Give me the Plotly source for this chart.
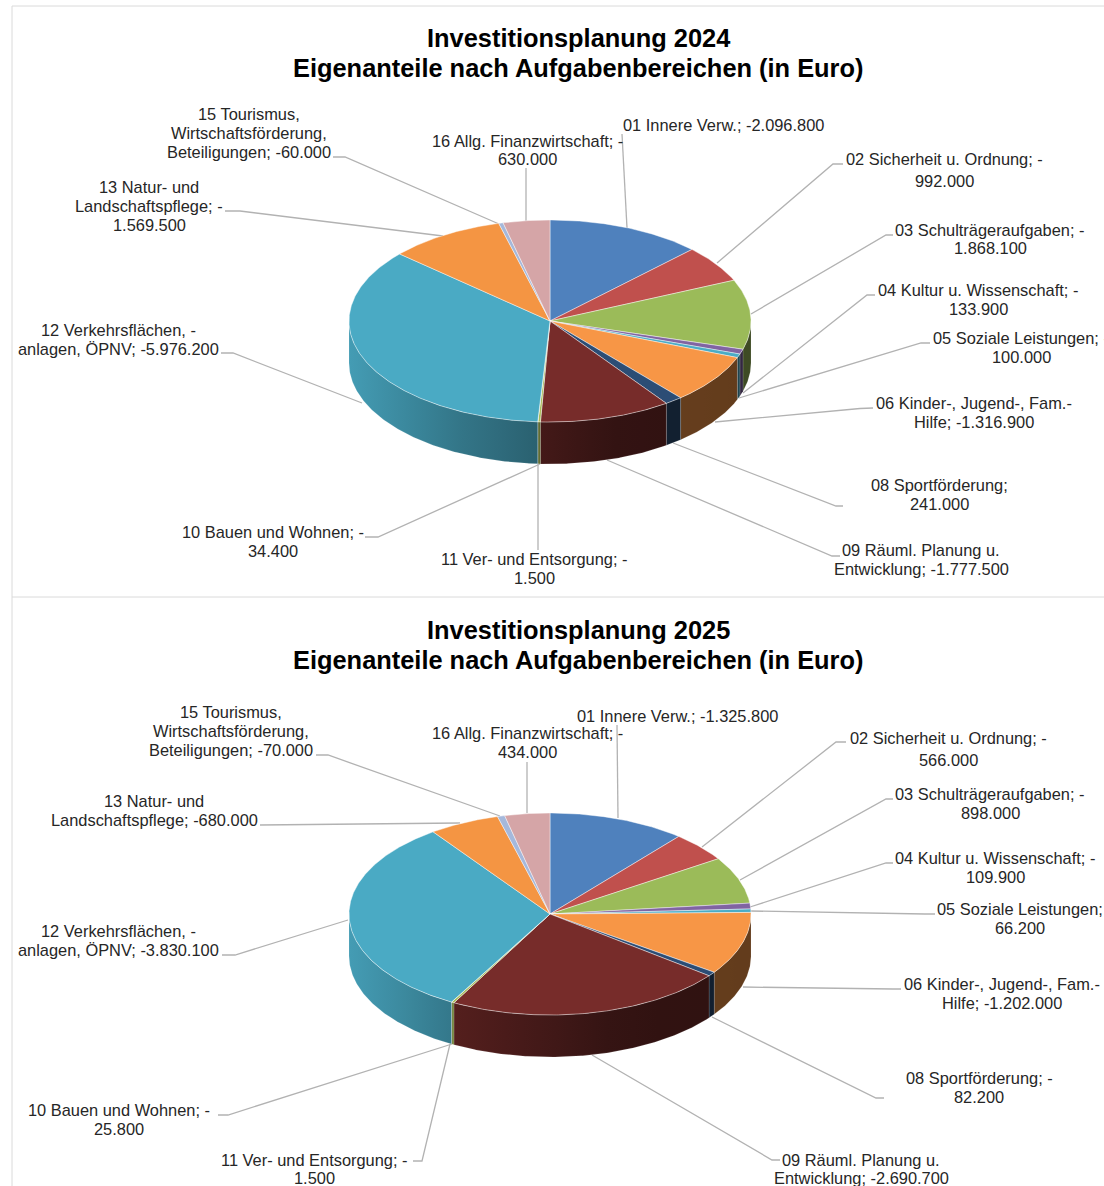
import math
import numpy as np
import plotly.graph_objects as go

# ---------- data ----------
categories = ["01 Innere Verw.", "02 Sicherheit u. Ordnung", "03 Schulträgeraufgaben",
              "04 Kultur u. Wissenschaft", "05 Soziale Leistungen", "06 Kinder-, Jugend-, Fam.-Hilfe",
              "08 Sportförderung", "09 Räuml. Planung u. Entwicklung", "10 Bauen und Wohnen",
              "11 Ver- und Entsorgung", "12 Verkehrsflächen, -anlagen, ÖPNV",
              "13 Natur- und Landschaftspflege", "15 Tourismus, Wirtschaftsförderung, Beteiligungen",
              "16 Allg. Finanzwirtschaft"]
values_2024 = [2096800, 992000, 1868100, 133900, 100000, 1316900, 241000,
               1777500, 34400, 1500, 5976200, 1569500, 60000, 630000]
values_2025 = [1325800, 566000, 898000, 109900, 66200, 1202000, 82200,
               2690700, 25800, 1500, 3830100, 680000, 70000, 434000]
colors = ["#4F81BD", "#C0504D", "#9BBB59", "#8064A2", "#4BACC6", "#F79646", "#2C4D75",
          "#772C2A", "#A9BC5A", "#4D3B62", "#4AAAC4", "#F49543", "#A5B8DB", "#D5A5A7"]

titles_2024 = ["Investitionsplanung 2024", "Eigenanteile nach Aufgabenbereichen (in Euro)"]
titles_2025 = ["Investitionsplanung 2025", "Eigenanteile nach Aufgabenbereichen (in Euro)"]

# ---------- layout of labels: (anchor, x, [(y, line), ...]) ----------
labels_2024 = [
    ("center", 249, [(114, "15 Tourismus,"), (133, "Wirtschaftsförderung,"), (152, "Beteiligungen; -60.000")]),
    ("center", 527, [(141, "16 Allg. Finanzwirtschaft; -"), (159, "630.000")]),
    ("center", 723, [(125, "01 Innere Verw.; -2.096.800")]),
    ("center", 944, [(159, "02 Sicherheit u. Ordnung; -"), (181, "992.000")]),
    ("center", 990, [(230, "03 Schulträgeraufgaben; -"), (248, "1.868.100")]),
    ("center", 978, [(290, "04 Kultur u. Wissenschaft; -"), (309, "133.900")]),
    ("left", 931, [(338, "05 Soziale Leistungen; -")]),
    ("center", 1021, [(357, "100.000")]),
    ("center", 974, [(403, "06 Kinder-, Jugend-, Fam.-"), (422, "Hilfe; -1.316.900")]),
    ("center", 939, [(485, "08 Sportförderung;"), (504, "241.000")]),
    ("center", 921, [(550, "09 Räuml. Planung u."), (569, "Entwicklung; -1.777.500")]),
    ("center", 534, [(559, "11 Ver- und Entsorgung; -"), (578, "1.500")]),
    ("center", 273, [(532, "10 Bauen und Wohnen; -"), (551, "34.400")]),
    ("center", 118, [(330, "12 Verkehrsflächen, -"), (349, "anlagen, ÖPNV; -5.976.200")]),
    ("center", 149, [(187, "13 Natur- und"), (206, "Landschaftspflege; -"), (225, "1.569.500")]),
]
labels_2025 = [
    ("center", 231, [(712, "15 Tourismus,"), (731, "Wirtschaftsförderung,"), (750, "Beteiligungen; -70.000")]),
    ("center", 527, [(733, "16 Allg. Finanzwirtschaft; -"), (752, "434.000")]),
    ("center", 677, [(716, "01 Innere Verw.; -1.325.800")]),
    ("center", 948, [(738, "02 Sicherheit u. Ordnung; -"), (760, "566.000")]),
    ("center", 990, [(794, "03 Schulträgeraufgaben; -"), (813, "898.000")]),
    ("center", 995, [(858, "04 Kultur u. Wissenschaft; -"), (877, "109.900")]),
    ("center", 1020, [(909, "05 Soziale Leistungen;"), (928, "66.200")]),
    ("center", 1002, [(984, "06 Kinder-, Jugend-, Fam.-"), (1003, "Hilfe; -1.202.000")]),
    ("center", 979, [(1078, "08 Sportförderung; -"), (1097, "82.200")]),
    ("center", 861, [(1160, "09 Räuml. Planung u."), (1177.5, "Entwicklung; -2.690.700")]),
    ("center", 314, [(1160, "11 Ver- und Entsorgung; -"), (1177.5, "1.500")]),
    ("center", 119, [(1110, "10 Bauen und Wohnen; -"), (1129, "25.800")]),
    ("center", 118, [(931, "12 Verkehrsflächen, -"), (950, "anlagen, ÖPNV; -3.830.100")]),
    ("center", 154, [(801, "13 Natur- und"), (820, "Landschaftspflege; -680.000")]),
]

# ---------- leader lines (page layout, px) ----------
leaders = [
    [(333, 157), (345, 157), (499, 224)], [(526, 168), (526, 221)], [(622, 134), (627, 228)],
    [(843, 164), (833, 164), (717, 263)], [(893, 235), (886, 235), (751, 314)],
    [(875, 295), (867, 295), (743, 393)], [(930, 343), (921, 343), (739, 398)],
    [(873, 408), (860, 408.5), (715, 422)], [(843, 506), (836, 506), (673, 443)],
    [(840, 556), (832, 556), (607, 460)], [(538, 550), (538, 464)],
    [(365, 537), (378, 537), (540, 464)], [(221, 353), (233, 353), (362, 403)],
    [(225, 211), (240, 211), (443, 236)],
    [(316, 755), (328, 755), (500, 816)], [(527, 762), (527, 813)], [(617, 725), (618, 818)],
    [(846, 742), (836, 742), (702, 847)], [(893, 799), (886, 799), (740, 880)],
    [(893, 863), (886, 863), (750, 907)], [(935, 914), (925, 914), (750, 911)],
    [(901, 989), (893, 989), (743, 987)], [(884, 1098), (876, 1098), (712, 1017)],
    [(780, 1160), (772, 1160), (592, 1055)], [(413, 1161), (422, 1161), (450, 1044)],
    [(218, 1115), (228, 1115), (452, 1044)], [(222, 955), (235, 955), (348, 920)],
    [(260, 825), (460, 823)],
]

# ---------- pie geometry ----------
RX, RY, DEPTH = 201, 101, 42
FONT = "Liberation Sans, Arial, sans-serif"


def shade(x, cx):
    return float(np.interp(x - cx, [-201, -95, -10, 70, 201], [0.92, 0.70, 0.57, 0.42, 0.40]))


def scaled(hex_c, f):
    r, g, b = (int(hex_c[i:i + 2], 16) for i in (1, 3, 5))
    return f"rgb({round(r * f)},{round(g * f)},{round(b * f)})"


def arc(a, b, cx, cy):
    n = max(3, int(abs(b - a) / 0.5) + 2)
    t = np.radians(np.linspace(a, b, n))
    return cx + RX * np.sin(t), cy - RY * np.cos(t)


def add_pie(fig, values, cx, cy):
    total = sum(values)
    edges = np.concatenate([[0], np.cumsum(values) / total * 360])
    # side walls
    for i, cat in enumerate(categories):
        a, b = max(edges[i], 90), min(edges[i + 1], 270)
        if b <= a:
            continue
        x, y = arc(a, b, cx, cy)
        px = np.concatenate([x, x[::-1], x[:1]])
        py = np.concatenate([y, y[::-1] + DEPTH, y[:1]])
        x0, x1 = float(x.min()), float(x.max())
        ts = np.linspace(0, 1, 6)
        scale = [[float(t), scaled(colors[i], shade(x0 + t * (x1 - x0), cx))] for t in ts]
        fig.add_trace(go.Scatter(
            x=px, y=py, mode="lines", fill="toself", name=cat, hoverinfo="name",
            line=dict(color="rgba(255,255,255,0.22)", width=0.6),
            fillgradient=dict(type="horizontal", colorscale=scale),
        ))
    # top faces
    for i, cat in enumerate(categories):
        x, y = arc(edges[i], edges[i + 1], cx, cy)
        fig.add_trace(go.Scatter(
            x=np.concatenate([[cx], x, [cx]]), y=np.concatenate([[cy], y, [cy]]),
            mode="lines", fill="toself", fillcolor=colors[i], name=cat, hoverinfo="name",
            line=dict(color="rgba(255,255,255,0.55)", width=0.8),
        ))


fig = go.Figure()

# leader lines first, beneath the pies
lx, ly = [], []
for seg in leaders:
    lx += [p[0] for p in seg] + [None]
    ly += [p[1] for p in seg] + [None]
fig.add_trace(go.Scatter(x=lx, y=ly, mode="lines", hoverinfo="skip",
                         line=dict(color="#B2B2B2", width=1.3)))

add_pie(fig, values_2024, 550, 321)
add_pie(fig, values_2025, 550, 914)

# frame lines
fig.add_trace(go.Scatter(x=[1104, 12, 12, None, 12, 1104], y=[6, 6, 1186, None, 597, 597],
                         mode="lines", hoverinfo="skip", line=dict(color="#DADADA", width=1)))

annotations = []
for title, y0 in ((titles_2024, 38), (titles_2025, 630)):
    for k, line in enumerate(title):
        annotations.append(dict(x=578, y=y0 + k * 29.5, text=f"<b>{line}</b>", showarrow=False,
                                xanchor="center", yanchor="middle",
                                font=dict(family=FONT, size=25.4, color="#000000")))
for group in (labels_2024, labels_2025):
    for anchor, x, lines in group:
        for y, line in lines:
            annotations.append(dict(x=x, y=y, text=line, showarrow=False, xanchor=anchor,
                                    yanchor="middle", xshift=0,
                                    font=dict(family=FONT, size=16.4, color="#262626")))

fig.update_layout(
    width=1104, height=1186, margin=dict(l=0, r=0, t=0, b=0),
    paper_bgcolor="#FFFFFF", plot_bgcolor="#FFFFFF", showlegend=False,
    xaxis=dict(range=[0, 1104], visible=False, fixedrange=True),
    yaxis=dict(range=[1186, 0], visible=False, fixedrange=True),
    annotations=annotations,
)

fig.write_html("out.html", config=dict(displayModeBar=False),
               post_script="document.body.style.margin='0';document.body.style.overflow='hidden';")
